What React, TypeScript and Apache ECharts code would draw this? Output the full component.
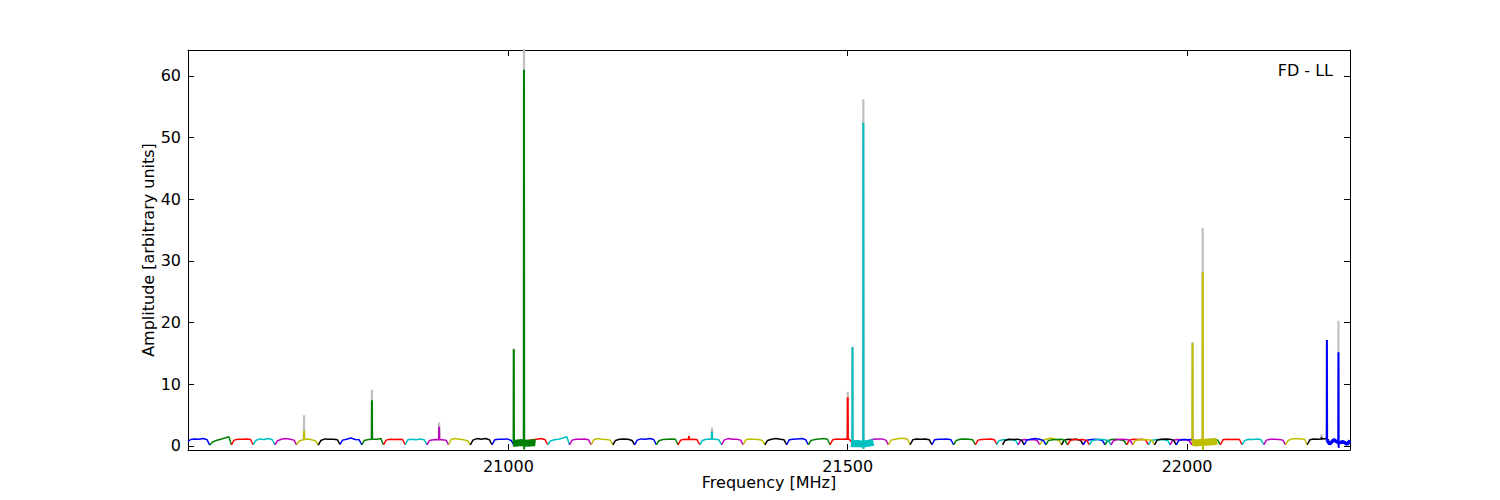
import React, { useEffect, useRef } from "react";
import * as echarts from "echarts";

// ---------- data ----------
const X_MIN = 20528;
const X_MAX = 22240;
const Y_MIN = -0.65;
const Y_MAX = 64.2;
const X_TICKS = [21000, 21500, 22000];
const Y_TICKS = [0, 10, 20, 30, 40, 50, 60];

const PANEL_LABEL = "FD - LL";
const X_TITLE = "Frequency [MHz]";
const Y_TITLE = "Amplitude [arbitrary units]";

// sample positions inside each spectral window (fraction of its width)
const SHAPE_FRACTIONS = [0, 0.12, 0.3, 0.5, 0.7, 0.88, 1];
const WINDOW_WIDTH = 32; // MHz

// regular spectral windows
const REG_STARTS = [
  20528, 20560, 20592, 20624, 20656, 20688, 20720, 20752, 20784, 20816, 20848, 20880, 20912, 20944, 20976,
  21026, 21058, 21090, 21122, 21154, 21186, 21218, 21250, 21282, 21314, 21346, 21378, 21410, 21442, 21474,
  21528, 21560, 21592, 21624, 21656, 21688,
  21719, 21751, 21783, 21815, 21847, 21879, 21911, 21943, 21975,
  21728, 21760, 21792, 21824, 21856, 21888, 21920, 21952, 21984,
  22017, 22049, 22081, 22113, 22145, 22177,
];
const REG_COLORS =
  "bgrcmykbgrcmykb" + "rcmykbgrcmykbgr" + "mykbgr" + "cmykbgrcm" + "kbgrcmykb" + "grcmyk";
const REG_LEVELS = [
  [0.7, 1.05, 1.15, 1.1, 1.2, 1.0, 0.15],
  [0.15, 0.6, 0.9, 1.1, 1.3, 1.5, 0.2],
  [0.2, 0.95, 1.1, 1.1, 1.15, 1.05, 0.2],
  [0.2, 0.9, 1.15, 1.05, 1.2, 1.0, 0.2],
  [0.2, 0.85, 1.1, 1.2, 1.1, 0.95, 0.2],
  [0.2, 0.8, 1.0, 1.15, 1.0, 0.8, 0.15],
  [0.15, 0.9, 1.15, 1.1, 1.1, 1.0, 0.25],
  [0.25, 0.95, 1.1, 1.3, 1.05, 1.0, 0.2],
  [0.2, 0.9, 1.05, 1.1, 1.1, 1.2, 0.2],
  [0.2, 0.95, 1.1, 1.05, 1.1, 1.05, 0.2],
  [0.2, 1.0, 1.1, 1.0, 1.15, 1.0, 0.2],
  [0.2, 0.9, 1.0, 1.05, 1.0, 0.95, 0.2],
  [0.2, 1.1, 1.2, 1.1, 1.0, 0.8, 0.2],
  [0.2, 0.95, 1.2, 1.1, 1.2, 1.0, 0.2],
  [0.2, 1.0, 1.1, 1.1, 1.15, 0.9, 0.2],
  [0.6, 0.9, 1.0, 1.1, 1.2, 1.0, 0.2],
  [0.2, 0.8, 1.0, 1.1, 1.3, 1.5, 0.2],
  [0.2, 0.95, 1.1, 1.1, 1.15, 1.0, 0.2],
  [0.2, 1.0, 1.2, 1.1, 1.05, 0.95, 0.2],
  [0.2, 0.9, 1.1, 1.15, 1.1, 0.9, 0.2],
  [0.2, 0.95, 1.15, 1.1, 1.2, 1.05, 0.2],
  [0.2, 0.85, 1.05, 1.1, 1.15, 1.1, 0.2],
  [0.2, 0.95, 1.1, 1.05, 1.1, 1.0, 0.2],
  [0.2, 0.9, 1.1, 1.15, 1.1, 1.0, 0.2],
  [0.2, 0.95, 1.2, 1.1, 1.1, 0.95, 0.2],
  [0.2, 1.0, 1.15, 1.1, 1.05, 0.9, 0.2],
  [0.2, 0.9, 1.1, 1.2, 1.1, 1.0, 0.2],
  [0.2, 1.0, 1.1, 1.15, 1.2, 1.0, 0.2],
  [0.2, 0.9, 1.05, 1.15, 1.2, 1.1, 0.2],
  [0.2, 1.0, 1.15, 1.1, 1.15, 1.1, 0.6],
  [0.5, 0.9, 1.1, 1.15, 1.15, 0.95, 0.2],
  [0.2, 0.95, 1.1, 1.2, 1.25, 1.1, 0.2],
  [0.2, 1.0, 1.15, 1.1, 1.15, 1.0, 0.2],
  [0.2, 1.0, 1.1, 1.1, 1.15, 1.0, 0.2],
  [0.2, 0.9, 1.1, 1.15, 1.1, 1.0, 0.2],
  [0.2, 0.95, 1.05, 1.1, 1.15, 1.0, 0.2],
  [0.2, 0.85, 1.0, 1.05, 1.0, 0.9, 0.2],
  [0.2, 0.9, 1.05, 1.0, 1.05, 0.9, 0.2],
  [0.2, 0.9, 1.1, 1.3, 1.1, 0.9, 0.2],
  [0.2, 0.95, 1.1, 1.05, 1.1, 0.9, 0.2],
  [0.2, 0.9, 1.0, 1.1, 1.05, 0.9, 0.2],
  [0.2, 0.85, 1.05, 1.1, 1.0, 0.85, 0.2],
  [0.2, 0.95, 1.1, 1.05, 1.1, 0.95, 0.2],
  [0.2, 0.9, 1.0, 1.05, 1.0, 0.9, 0.2],
  [0.2, 0.9, 1.05, 1.0, 1.05, 0.85, 0.2],
  [0.2, 0.9, 1.1, 1.05, 1.1, 0.95, 0.2],
  [0.2, 0.95, 1.1, 1.2, 1.1, 0.9, 0.2],
  [0.2, 0.9, 1.0, 1.05, 1.1, 0.9, 0.2],
  [0.2, 0.9, 1.1, 1.0, 1.05, 0.9, 0.2],
  [0.2, 0.85, 1.0, 1.1, 1.0, 0.85, 0.2],
  [0.2, 0.9, 1.05, 1.1, 1.05, 0.9, 0.2],
  [0.2, 0.9, 1.0, 1.05, 1.0, 0.9, 0.2],
  [0.2, 0.95, 1.1, 1.15, 1.1, 0.95, 0.2],
  [0.2, 0.9, 1.05, 1.0, 1.05, 0.9, 0.2],
  [0.3, 0.9, 1.0, 1.05, 1.1, 0.95, 0.2],
  [0.2, 1.0, 1.1, 1.05, 1.1, 1.05, 0.2],
  [0.2, 0.9, 1.1, 1.05, 1.15, 1.0, 0.2],
  [0.2, 0.95, 1.1, 1.1, 1.05, 0.95, 0.2],
  [0.2, 0.9, 1.15, 1.2, 1.15, 1.1, 0.2],
  [0.2, 1.0, 1.15, 1.1, 1.15, 1.2, 0.9],
];

// high-resolution (noisy) windows
const THICK_STARTS = [21007, 21505, 22008, 22206];
const THICK_ENDS = [21040, 21538, 22044, 22240];
const THICK_COLORS = "gcyb";
const THICK_LEVELS = [
  [0.5, 0.45, 0.55, 0.5, 0.45, 0.55, 0.5],
  [0.4, 0.35, 0.4, 0.3, 0.4, 0.5, 0.6],
  [0.6, 0.5, 0.55, 0.6, 0.65, 0.7, 0.8],
  [1.0, 0.3, 1.0, 0.5, 0.7, 0.3, 0.9],
];

// narrow spectral lines
const SPIKE_FREQS = [20699, 20799, 20898, 21008, 21023, 21266, 21300, 21500, 21507, 21523, 22008, 22023, 22198, 22206, 22223];
const SPIKE_PEAKS = [2.5, 7.4, 3.1, 15.7, 61.0, 1.6, 2.3, 7.9, 16.0, 52.4, 16.7, 28.2, 1.4, 17.2, 15.2];
const SPIKE_GREY = [5.0, 9.1, 3.8, 15.8, 66.0, null, 3.0, 8.8, 16.1, 56.2, 16.8, 35.3, 1.9, 17.2, 20.3];
const SPIKE_DIPS = [null, null, null, null, -0.55, null, null, null, null, -0.5, null, -0.65, null, null, -0.3];

// ---------- styling ----------
const PALETTE: Record<string, string> = {
  b: "#0000ff",
  g: "#008000",
  r: "#ff0000",
  c: "#00bfbf",
  m: "#bf00bf",
  y: "#bfbf00",
  k: "#000000",
};
const GREY = "#c0c0c0";
const FONT = "DejaVu Sans";
const THICK_LINE_WIDTHS = [7, 7, 7, 3.5];

type Win = { start: number; end: number; levels: number[]; color: string };

function windowPoints(w: Win): number[][] {
  return SHAPE_FRACTIONS.map((f, i) => [w.start + f * (w.end - w.start), w.levels[i]]);
}

function interp(pts: number[][], x: number): number {
  for (let i = 0; i < pts.length - 1; i++) {
    if (x >= pts[i][0] && x <= pts[i + 1][0]) {
      const t = (x - pts[i][0]) / (pts[i + 1][0] - pts[i][0] || 1);
      return pts[i][1] + t * (pts[i + 1][1] - pts[i][1]);
    }
  }
  return pts[pts.length - 1][1];
}

export default function App() {
  const ref = useRef<HTMLDivElement>(null);

  useEffect(() => {
    if (!ref.current) return;
    const chart = echarts.init(ref.current, undefined, { renderer: "svg" });

    const regular: Win[] = REG_STARTS.map((s, i) => ({
      start: s,
      end: s + WINDOW_WIDTH,
      levels: REG_LEVELS[i],
      color: PALETTE[REG_COLORS[i]],
    }));
    const thick: Win[] = THICK_STARTS.map((s, i) => ({
      start: s,
      end: THICK_ENDS[i],
      levels: THICK_LEVELS[i],
      color: PALETTE[THICK_COLORS[i]],
    }));
    const owners = [...thick, ...regular];

    const series: any[] = [];

    // grey reference spectrum (only visible above the coloured peaks)
    SPIKE_FREQS.forEach((f, j) => {
      const g = SPIKE_GREY[j];
      if (g == null) return;
      const owner = owners.find((w) => f >= w.start && f < w.end)!;
      const base = interp(windowPoints(owner), f);
      series.push({
        type: "line",
        xAxisIndex: 0,
        yAxisIndex: 0,
        showSymbol: false,
        silent: true,
        lineStyle: { color: GREY, width: 2.2 },
        data: [
          [f - 0.25, base],
          [f, g],
          [f + 0.25, base],
        ],
      });
    });

    regular.forEach((w) => {
      series.push({
        type: "line",
        xAxisIndex: 0,
        yAxisIndex: 0,
        showSymbol: false,
        silent: true,
        lineStyle: { color: w.color, width: 1.5 },
        data: windowPoints(w),
      });
    });

    thick.forEach((w, i) => {
      series.push({
        type: "line",
        xAxisIndex: 0,
        yAxisIndex: 0,
        showSymbol: false,
        silent: true,
        lineStyle: { color: w.color, width: THICK_LINE_WIDTHS[i] },
        data: windowPoints(w),
      });
    });

    SPIKE_FREQS.forEach((f, j) => {
      const owner = owners.find((w) => f >= w.start && f < w.end)!;
      const base = interp(windowPoints(owner), f);
      const dip = SPIKE_DIPS[j];
      series.push({
        type: "line",
        xAxisIndex: 0,
        yAxisIndex: 0,
        showSymbol: false,
        silent: true,
        lineStyle: { color: owner.color, width: 2 },
        data: [
          [f - 0.25, base],
          [f, SPIKE_PEAKS[j]],
          [f + 0.25, dip == null ? base : dip],
          ...(dip == null ? [] : [[f + 0.6, base]]),
        ],
      });
    });

    const tickCommon = { inside: true, length: 6, lineStyle: { color: "#000", width: 1 } };
    const lineCommon = { show: true, onZero: false, lineStyle: { color: "#000", width: 1 } };
    const labelCommon = {
      color: "#000",
      fontSize: 16,
      fontFamily: FONT,
      formatter: (v: number) => String(v),
    };

    chart.setOption({
      animation: false,
      backgroundColor: "#fff",
      grid: { left: 188, top: 50, width: 1162, height: 400, containLabel: false },
      xAxis: [
        {
          type: "value",
          position: "bottom",
          min: X_MIN,
          max: X_MAX,
          axisLine: lineCommon,
          axisTick: { ...tickCommon, customValues: X_TICKS },
          axisLabel: { ...labelCommon, customValues: X_TICKS, margin: 8 },
          splitLine: { show: false },
          name: X_TITLE,
          nameLocation: "middle",
          nameGap: 24,
          nameMoveOverlap: false,
          nameTextStyle: { color: "#000", fontSize: 16, fontFamily: FONT },
        },
        {
          type: "value",
          position: "top",
          min: X_MIN,
          max: X_MAX,
          axisLine: lineCommon,
          axisTick: { ...tickCommon, customValues: X_TICKS },
          axisLabel: { show: false },
          splitLine: { show: false },
        },
      ],
      yAxis: [
        {
          type: "value",
          position: "left",
          min: Y_MIN,
          max: Y_MAX,
          axisLine: lineCommon,
          axisTick: { ...tickCommon, customValues: Y_TICKS },
          axisLabel: { ...labelCommon, customValues: Y_TICKS, margin: 7 },
          splitLine: { show: false },
          name: Y_TITLE,
          nameLocation: "middle",
          nameGap: 32,
          nameMoveOverlap: false,
          nameTextStyle: { color: "#000", fontSize: 16, fontFamily: FONT },
        },
        {
          type: "value",
          position: "right",
          min: Y_MIN,
          max: Y_MAX,
          axisLine: lineCommon,
          axisTick: { ...tickCommon, customValues: Y_TICKS },
          axisLabel: { show: false },
          splitLine: { show: false },
        },
      ],
      graphic: [
        {
          type: "text",
          x: 1333,
          y: 70,
          style: {
            text: PANEL_LABEL,
            fill: "#000",
            font: `16px '${FONT}'`,
            textAlign: "right",
            textVerticalAlign: "middle",
          },
        },
      ],
      series,
    });

    return () => chart.dispose();
  }, []);

  return (
    <div
      ref={ref}
      style={{ position: "absolute", left: 0, top: 0, width: 1500, height: 500, background: "#fff" }}
    />
  );
}
